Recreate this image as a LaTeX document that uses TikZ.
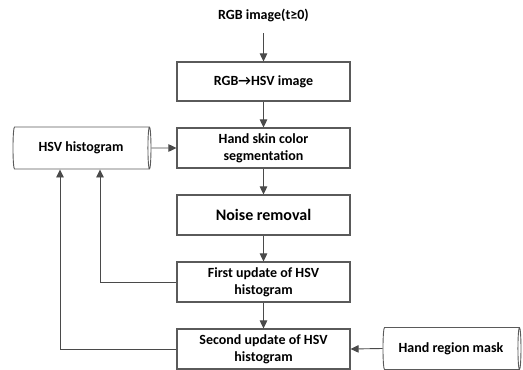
\documentclass[tikz,border=0pt]{standalone}
\usepackage{fontspec}
\setmainfont{Carlito}
\usetikzlibrary{shapes.geometric,arrows.meta}
\definecolor{ln}{HTML}{4A4A4A}
\definecolor{bd}{HTML}{5A5A5A}
\tikzset{
  txt/.style={font=\bfseries\fontsize{14}{17}\selectfont},
  stepbox/.style={txt, draw=bd, line width=1.1pt, fill=white, minimum width=173pt, inner sep=0pt, align=center},
  store/.style={txt, cylinder, draw=bd, line width=0.9pt, shape aspect=0.25, minimum width=42pt, minimum height=138pt, inner sep=0pt},
  arr/.style={draw=ln, line width=0.9pt, -{Triangle[length=8pt,width=7.5pt]}},
}
\begin{document}
\begin{tikzpicture}[x=1pt,y=-1pt]
\useasboundingbox (0,0) rectangle (523,370);
\node[txt] (in) at (263.5,15) {RGB image(t≥0)};
\node[stepbox, minimum height=39pt] (b1) at (263.5,81.5) {RGB→HSV image};
\node[stepbox, minimum height=40pt] (b2) at (263.5,148) {Hand skin color\\segmentation};
\node[stepbox, minimum height=40pt, font=\bfseries\fontsize{16}{19}\selectfont] (b3) at (263.5,215) {Noise removal};
\node[stepbox, minimum height=40pt] (b4) at (263.5,282) {First update of HSV\\histogram};
\node[stepbox, minimum height=40pt] (b5) at (263.5,349) {Second update of HSV\\histogram};
\node[store] (hist) at (81,148) {HSV histogram};
\node[store] (mask) at (451,348.5) {Hand region mask};
\coordinate (inb) at (263.5,33);
\draw[arr] (inb) -- (b1);
\draw[arr] (b1) -- (b2);
\draw[arr] (b2) -- (b3);
\draw[arr] (b3) -- (b4);
\draw[arr] (b4) -- (b5);
\draw[arr] (hist.east) -- (b2.west);
\draw[arr] (mask.west) -- (b5.east);
\draw[arr] (b4.west) -| (hist.south -| 100,0);
\draw[arr] (b5.west) -| (hist.south -| 60,0);
\end{tikzpicture}
\end{document}
